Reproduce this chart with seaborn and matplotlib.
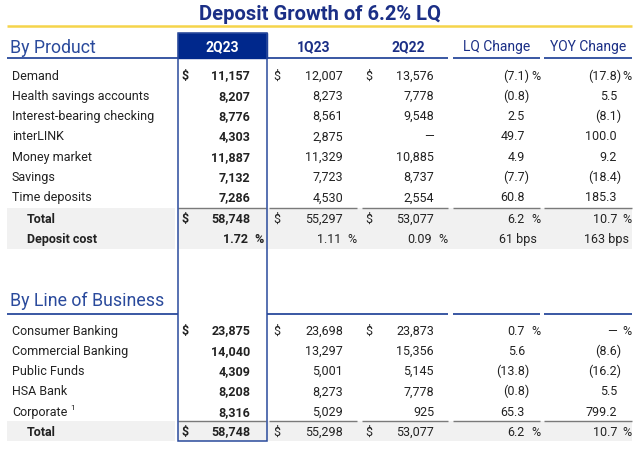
import numpy as np
import matplotlib
matplotlib.use("Agg")
import matplotlib.pyplot as plt
import seaborn as sns

# ---- data ----
title = "Deposit Growth of 6.2% LQ"
periods = ["2Q23", "1Q23", "2Q22"]
change_headers = ["LQ Change", "YOY Change"]

products = ["Demand", "Health savings accounts", "Interest-bearing checking",
            "interLINK", "Money market", "Savings", "Time deposits"]
prod_2q23 = [11157, 8207, 8776, 4303, 11887, 7132, 7286]
prod_1q23 = [12007, 8273, 8561, 2875, 11329, 7723, 4530]
prod_2q22 = [13576, 7778, 9548, None, 10885, 8737, 2554]
prod_lq = [-7.1, -0.8, 2.5, 49.7, 4.9, -7.7, 60.8]
prod_yoy = [-17.8, 5.5, -8.1, 100.0, 9.2, -18.4, 185.3]
prod_total = [58748, 55297, 53077]
prod_total_chg = [6.2, 10.7]
deposit_cost = [1.72, 1.11, 0.09]
deposit_cost_bps = [61, 163]

lobs = ["Consumer Banking", "Commercial Banking", "Public Funds", "HSA Bank", "Corporate"]
lob_2q23 = [23875, 14040, 4309, 8208, 8316]
lob_1q23 = [23698, 13297, 5001, 8273, 5029]
lob_2q22 = [23873, 15356, 5145, 7778, 925]
lob_lq = [0.7, 5.6, -13.8, -0.8, 65.3]
lob_yoy = [None, -8.6, -16.2, 5.5, 799.2]
lob_total = [58748, 55298, 53077]
lob_total_chg = [6.2, 10.7]

# ---- style ----
sns.set_theme(style="white")
plt.rcParams['font.family'] = ['Roboto', 'DejaVu Sans']

NAVY = "#1b2f86"
BLUE = "#2a4a9c"
BOX = "#00288c"
TXT = "#222222"
GRAY = "#f1f1f1"
SEP = "#7a7a7a"
FS = 9
BL = 3.6  # baseline offset from row centre

fig = plt.figure(figsize=(6.4, 4.52), dpi=100)
ax = fig.add_axes([0, 0, 1, 1])
ax.set_xlim(0, 640)
ax.set_ylim(452, 0)
ax.axis("off")

# column anchors (right edges / dollar sign positions)
num_right = [250, 343, 434]
dollar_x = [182, 273, 365]
chg_right = [525, 617]
pct_x = [531, 622]
seg_all = [(178, 266), (269, 357), (362, 448), (453, 540), (544, 632)]


def put(x, y, s, ha="left", bold=False, size=FS, color=TXT, **kw):
    ax.text(x, y + BL, s, ha=ha, va="baseline", fontsize=size, color=color,
            fontweight="bold" if bold else "normal", **kw)


def fmt_num(v):
    return "\u2014" if v is None else f"{v:,}"


def draw_chg(j, v, y, pct=False):
    if v is None:
        put(chg_right[j], y, "\u2014", ha="right")
    elif v < 0:
        put(chg_right[j] + 4, y, f"({abs(v):.1f})", ha="right")
    else:
        put(chg_right[j], y, f"{v:.1f}", ha="right")
    if pct:
        put(pct_x[j], y, "%")


def draw_row(label, vals, chgs, y, dollar=False, bold_label=False, indent=12, pct=False):
    put(indent, y, label, bold=bold_label)
    for k, v in enumerate(vals):
        put(num_right[k], y, fmt_num(v), ha="right", bold=(k == 0))
        if dollar:
            put(dollar_x[k], y, "$", bold=(k == 0))
    for j, c in enumerate(chgs):
        draw_chg(j, c, y, pct=pct)


# title + yellow rule
ax.text(320, 20, title, ha="center", va="baseline", fontsize=14.5, fontweight="bold", color=NAVY)
ax.hlines(27, 7, 632, color="#f5d44a", lw=1.8)

# gray bands for total rows
for y0, y1 in [(209, 250), (422, 442)]:
    ax.add_patch(plt.Rectangle((7, y0), 168, y1 - y0, color=GRAY, lw=0, zorder=0))
    ax.add_patch(plt.Rectangle((178, y0), 454, y1 - y0, color=GRAY, lw=0, zorder=0))

# header
ax.add_patch(plt.Rectangle((177.5, 34), 89.5, 25, facecolor=BOX, edgecolor=BOX, lw=1, zorder=3))
ax.add_patch(plt.Rectangle((177.5, 34), 89.5, 408, facecolor="none", edgecolor=BLUE, lw=1.1, zorder=4))
ax.text(10, 53, "By Product", ha="left", va="baseline", fontsize=12.8, color=BLUE)
ax.text(222, 51.5, periods[0], ha="center", va="baseline", fontsize=10, fontweight="bold", color="white", zorder=5)
ax.text(314, 51.5, periods[1], ha="center", va="baseline", fontsize=10, fontweight="bold", color=NAVY)
ax.text(408, 51.5, periods[2], ha="center", va="baseline", fontsize=10, fontweight="bold", color=NAVY)
ax.text(497, 51.5, change_headers[0], ha="center", va="baseline", fontsize=10, color=NAVY)
ax.text(588, 51.5, change_headers[1], ha="center", va="baseline", fontsize=10, color=NAVY)
for x0, x1 in [(7, 448), (453, 540), (544, 632)]:
    ax.hlines(59, x0, x1, color=BLUE, lw=1.3)

# product rows
step = 20.3
for i, name in enumerate(products):
    y = 76 + i * step
    draw_row(name, [prod_2q23[i], prod_1q23[i], prod_2q22[i]], [prod_lq[i], prod_yoy[i]],
             y, dollar=(i == 0), pct=(i == 0))

for x0, x1 in seg_all:
    ax.hlines(209, x0, x1, color=SEP, lw=1)
draw_row("Total", prod_total, prod_total_chg, 219, dollar=True, bold_label=True, indent=27, pct=True)

y = 239.5
put(27, y, "Deposit cost", bold=True)
for k, v in enumerate(deposit_cost):
    put(num_right[k] - 2, y, f"{v:.2f}", ha="right", bold=(k == 0))
    put(num_right[k] + 4, y, "%", bold=(k == 0))
for j, b in enumerate(deposit_cost_bps):
    put(chg_right[j] + 12, y, f"{b} bps", ha="right")

# line of business
ax.text(10, 306, "By Line of Business", ha="left", va="baseline", fontsize=12.8, color=BLUE)
for x0, x1 in [(7, 178), (267, 448), (453, 540), (544, 632)]:
    ax.hlines(314.5, x0, x1, color=BLUE, lw=1.3)

for i, name in enumerate(lobs):
    y = 331 + i * step
    draw_row(name, [lob_2q23[i], lob_1q23[i], lob_2q22[i]], [lob_lq[i], lob_yoy[i]],
             y, dollar=(i == 0), pct=(i == 0))
put(70, 406, "1", size=6)

for x0, x1 in seg_all:
    ax.hlines(422, x0, x1, color=SEP, lw=1)
draw_row("Total", lob_total, lob_total_chg, 432, dollar=True, bold_label=True, indent=27, pct=True)

fig.savefig("out.png", dpi=100)
